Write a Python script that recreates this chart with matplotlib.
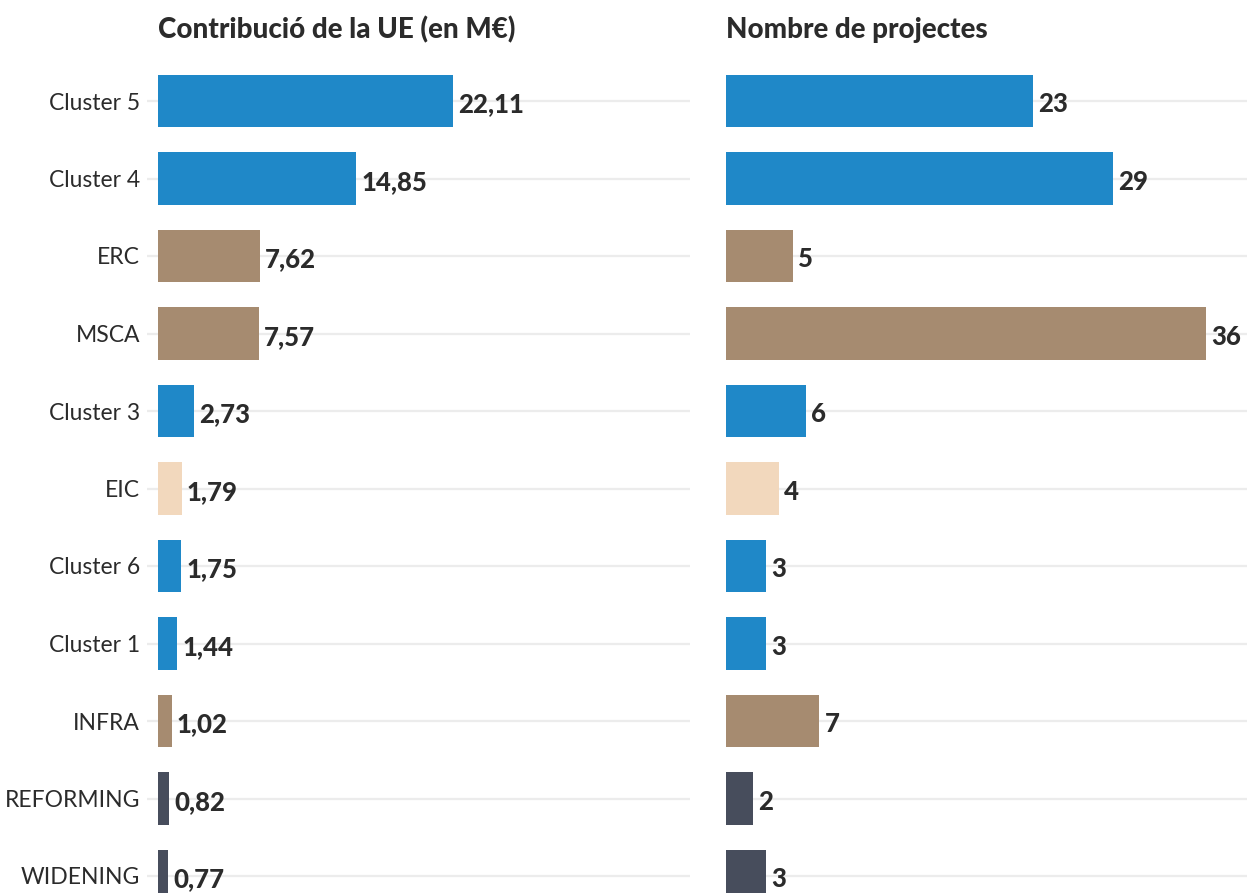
import matplotlib
matplotlib.use("Agg")
import matplotlib.pyplot as plt

plt.rcParams['font.family'] = ['Lato', 'DejaVu Sans']

categories = ["Cluster 5", "Cluster 4", "ERC", "MSCA", "Cluster 3", "EIC",
              "Cluster 6", "Cluster 1", "INFRA", "REFORMING", "WIDENING"]
contribution = [22.11, 14.85, 7.62, 7.57, 2.73, 1.79, 1.75, 1.44, 1.02, 0.82, 0.77]
projects = [23, 29, 5, 36, 6, 4, 3, 3, 7, 2, 3]
groups = ["pilar2", "pilar2", "pilar1", "pilar1", "pilar2", "pilar3",
          "pilar2", "pilar2", "pilar1", "widen", "widen"]
group_colors = {"pilar2": "#1f88c8", "pilar1": "#a68b70",
                "pilar3": "#f2d8bd", "widen": "#474d5c"}
titles = ["Contribució de la UE (en M€)", "Nombre de projectes"]

W, H = 1247, 893
fig = plt.figure(figsize=(W / 100, H / 100), dpi=100)
fig.patch.set_facecolor("white")

row_px = 77.5
first_row_px = 101
top_px = 60
ytop = -(first_row_px - top_px) / row_px
ybot = (H - first_row_px) / row_px
scale = 13.34  # px per unit


def make_axes(left_px, zero_px, right_px):
    ax = fig.add_axes([left_px / W, 0, (right_px - left_px) / W, 1 - top_px / H])
    xmin = -(zero_px - left_px) / scale
    xmax = (right_px - zero_px) / scale
    ax.set_xlim(xmin, xmax)
    ax.set_ylim(ybot, ytop)
    for s in ax.spines.values():
        s.set_visible(False)
    ax.set_xticks([])
    ax.set_yticks(range(len(categories)))
    ax.yaxis.grid(True, color="#ececec", linewidth=1.6)
    ax.set_axisbelow(True)
    ax.tick_params(axis="y", length=0, pad=5)
    return ax


colors = [group_colors[g] for g in groups]
ypos = list(range(len(categories)))

ax1 = make_axes(147, 158, 690)
ax1.barh(ypos, contribution, height=0.68, color=colors)
ax1.set_yticklabels(categories, fontsize=16.5, color="#2b2b2b")
for y, v in zip(ypos, contribution):
    ax1.annotate(f"{v:.2f}".replace(".", ","), (v, y), xytext=(3.6, -2.5),
                 textcoords="offset points", va="center", ha="left",
                 fontsize=18.5, fontweight=900, color="#2b2b2b")
ax1.text(158 / W, 1 - 30 / H, titles[0], transform=fig.transFigure,
         fontsize=20, fontweight=900, color="#2b2b2b", va="center", ha="left")

ax2 = make_axes(726, 726, 1247)
ax2.barh(ypos, projects, height=0.68, color=colors)
ax2.set_yticklabels([])
for y, v in zip(ypos, projects):
    ax2.annotate(f"{v}", (v, y), xytext=(3.6, -2.5),
                 textcoords="offset points", va="center", ha="left",
                 fontsize=18.5, fontweight=900, color="#2b2b2b")
ax2.text(726 / W, 1 - 30 / H, titles[1], transform=fig.transFigure,
         fontsize=20, fontweight=900, color="#2b2b2b", va="center", ha="left")

fig.savefig("out.png", dpi=100, facecolor="white")
